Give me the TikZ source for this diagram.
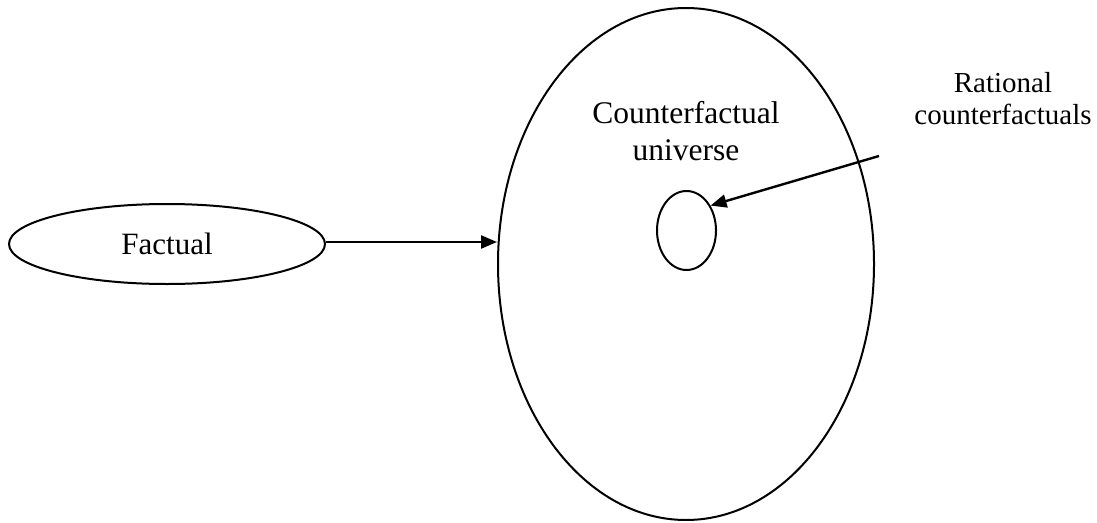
\documentclass[tikz,border=0pt]{standalone}
\usepackage{fontspec}
\setmainfont{Liberation Serif}
\usetikzlibrary{shapes.geometric,arrows.meta}
\tikzset{
  oval/.style={draw=black, line width=2pt, ellipse, inner sep=0pt},
  conn/.style={draw=black, line width=2.4pt, -{Triangle[length=16pt,width=13pt]}},
  lbl/.style={inner sep=0pt, align=center, text=black}
}
\begin{document}
\begin{tikzpicture}[x=1pt,y=-1pt]
\useasboundingbox (0,0) rectangle (1097,522);
\node[oval, minimum width=316pt, minimum height=80pt, font=\fontsize{31}{37}\selectfont] (fact) at (167,244) {Factual};
\node[oval, minimum width=376pt, minimum height=512pt] (big) at (686,264) {};
\node[oval, minimum width=59pt, minimum height=79pt] (small) at (686.5,230.5) {};
\node[lbl, font=\fontsize{31.5}{37}\selectfont] (cu) at (686,131) {Counterfactual\\universe};
\node[lbl, font=\fontsize{29}{32}\selectfont] (rc) at (1003,98.5) {Rational\\counterfactuals};
\coordinate (rstart) at (879,156);
\draw[conn] (fact.east |- 0,242) -- (big.west |- 0,242);
\draw[conn] (rstart) -- (small.46);
\end{tikzpicture}
\end{document}
